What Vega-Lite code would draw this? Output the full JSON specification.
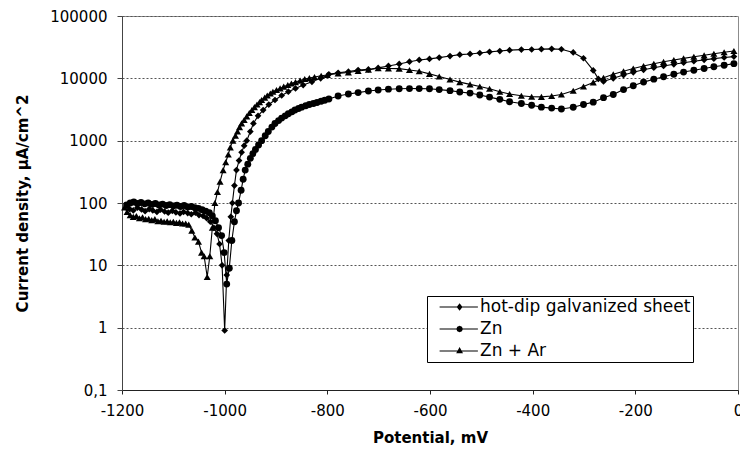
{
  "$schema": "https://vega.github.io/schema/vega-lite/v6.json",
  "width": 616,
  "height": 374,
  "autosize": {"type": "none"},
  "padding": {"left": 122, "top": 16, "right": 2, "bottom": 62},
  "background": "white",
  "config": {"view": {"stroke": "#8c8c8c", "strokeWidth": 1}, "font": "DejaVu Sans"},
  "datasets": {
    "d": [
      {"s":"hot-dip galvanized sheet","v":-1185,"i":80},{"s":"hot-dip galvanized sheet","v":-1178,"i":76},{"s":"hot-dip galvanized sheet","v":-1170,"i":84},{"s":"hot-dip galvanized sheet","v":-1162,"i":79},{"s":"hot-dip galvanized sheet","v":-1155,"i":74},{"s":"hot-dip galvanized sheet","v":-1147,"i":80},{"s":"hot-dip galvanized sheet","v":-1140,"i":76},{"s":"hot-dip galvanized sheet","v":-1132,"i":72},{"s":"hot-dip galvanized sheet","v":-1125,"i":78},{"s":"hot-dip galvanized sheet","v":-1117,"i":73},{"s":"hot-dip galvanized sheet","v":-1110,"i":70},{"s":"hot-dip galvanized sheet","v":-1102,"i":75},{"s":"hot-dip galvanized sheet","v":-1095,"i":71},{"s":"hot-dip galvanized sheet","v":-1087,"i":68},{"s":"hot-dip galvanized sheet","v":-1080,"i":72},{"s":"hot-dip galvanized sheet","v":-1072,"i":69},{"s":"hot-dip galvanized sheet","v":-1065,"i":66},{"s":"hot-dip galvanized sheet","v":-1057,"i":70},{"s":"hot-dip galvanized sheet","v":-1050,"i":64},{"s":"hot-dip galvanized sheet","v":-1042,"i":62},{"s":"hot-dip galvanized sheet","v":-1035,"i":57},{"s":"hot-dip galvanized sheet","v":-1028,"i":50},{"s":"hot-dip galvanized sheet","v":-1021,"i":40},{"s":"hot-dip galvanized sheet","v":-1015,"i":32},{"s":"hot-dip galvanized sheet","v":-1010,"i":22},{"s":"hot-dip galvanized sheet","v":-1005,"i":10},{"s":"hot-dip galvanized sheet","v":-1000,"i":0.9},{"s":"hot-dip galvanized sheet","v":-996,"i":7},{"s":"hot-dip galvanized sheet","v":-992,"i":25},{"s":"hot-dip galvanized sheet","v":-988,"i":60},{"s":"hot-dip galvanized sheet","v":-985,"i":100},{"s":"hot-dip galvanized sheet","v":-981,"i":190},{"s":"hot-dip galvanized sheet","v":-977,"i":337},{"s":"hot-dip galvanized sheet","v":-972,"i":480},{"s":"hot-dip galvanized sheet","v":-967,"i":650},{"s":"hot-dip galvanized sheet","v":-962,"i":830},{"s":"hot-dip galvanized sheet","v":-957,"i":1000},{"s":"hot-dip galvanized sheet","v":-950,"i":1400},{"s":"hot-dip galvanized sheet","v":-944,"i":1890},{"s":"hot-dip galvanized sheet","v":-935,"i":2500},{"s":"hot-dip galvanized sheet","v":-925,"i":3100},{"s":"hot-dip galvanized sheet","v":-914,"i":3800},{"s":"hot-dip galvanized sheet","v":-902,"i":4490},{"s":"hot-dip galvanized sheet","v":-889,"i":5300},{"s":"hot-dip galvanized sheet","v":-876,"i":6100},{"s":"hot-dip galvanized sheet","v":-862,"i":6900},{"s":"hot-dip galvanized sheet","v":-847,"i":7800},{"s":"hot-dip galvanized sheet","v":-830,"i":8800},{"s":"hot-dip galvanized sheet","v":-813,"i":10000},{"s":"hot-dip galvanized sheet","v":-797,"i":11600},{"s":"hot-dip galvanized sheet","v":-779,"i":12300},{"s":"hot-dip galvanized sheet","v":-759,"i":12800},{"s":"hot-dip galvanized sheet","v":-740,"i":13600},{"s":"hot-dip galvanized sheet","v":-720,"i":13900},{"s":"hot-dip galvanized sheet","v":-701,"i":14700},{"s":"hot-dip galvanized sheet","v":-681,"i":15800},{"s":"hot-dip galvanized sheet","v":-660,"i":17000},{"s":"hot-dip galvanized sheet","v":-640,"i":18500},{"s":"hot-dip galvanized sheet","v":-621,"i":19700},{"s":"hot-dip galvanized sheet","v":-601,"i":20500},{"s":"hot-dip galvanized sheet","v":-582,"i":21500},{"s":"hot-dip galvanized sheet","v":-561,"i":22800},{"s":"hot-dip galvanized sheet","v":-542,"i":24000},{"s":"hot-dip galvanized sheet","v":-522,"i":24600},{"s":"hot-dip galvanized sheet","v":-503,"i":25500},{"s":"hot-dip galvanized sheet","v":-484,"i":26600},{"s":"hot-dip galvanized sheet","v":-464,"i":27400},{"s":"hot-dip galvanized sheet","v":-445,"i":28300},{"s":"hot-dip galvanized sheet","v":-422,"i":28900},{"s":"hot-dip galvanized sheet","v":-402,"i":29000},{"s":"hot-dip galvanized sheet","v":-383,"i":29400},{"s":"hot-dip galvanized sheet","v":-363,"i":29700},{"s":"hot-dip galvanized sheet","v":-344,"i":29300},{"s":"hot-dip galvanized sheet","v":-321,"i":26000},{"s":"hot-dip galvanized sheet","v":-301,"i":21000},{"s":"hot-dip galvanized sheet","v":-282,"i":13400},{"s":"hot-dip galvanized sheet","v":-272,"i":9800},{"s":"hot-dip galvanized sheet","v":-262,"i":8900},{"s":"hot-dip galvanized sheet","v":-243,"i":10000},{"s":"hot-dip galvanized sheet","v":-223,"i":11300},{"s":"hot-dip galvanized sheet","v":-204,"i":12500},{"s":"hot-dip galvanized sheet","v":-184,"i":13700},{"s":"hot-dip galvanized sheet","v":-164,"i":14800},{"s":"hot-dip galvanized sheet","v":-145,"i":15800},{"s":"hot-dip galvanized sheet","v":-125,"i":16800},{"s":"hot-dip galvanized sheet","v":-106,"i":17800},{"s":"hot-dip galvanized sheet","v":-86,"i":18800},{"s":"hot-dip galvanized sheet","v":-66,"i":19800},{"s":"hot-dip galvanized sheet","v":-47,"i":20700},{"s":"hot-dip galvanized sheet","v":-27,"i":21600},{"s":"hot-dip galvanized sheet","v":-8,"i":22300},

      {"s":"Zn","v":-1191,"i":93},{"s":"Zn","v":-1184,"i":100},{"s":"Zn","v":-1177,"i":104},{"s":"Zn","v":-1170,"i":98},{"s":"Zn","v":-1163,"i":102},{"s":"Zn","v":-1156,"i":97},{"s":"Zn","v":-1149,"i":100},{"s":"Zn","v":-1142,"i":95},{"s":"Zn","v":-1135,"i":98},{"s":"Zn","v":-1128,"i":93},{"s":"Zn","v":-1121,"i":96},{"s":"Zn","v":-1114,"i":91},{"s":"Zn","v":-1107,"i":94},{"s":"Zn","v":-1100,"i":90},{"s":"Zn","v":-1093,"i":92},{"s":"Zn","v":-1086,"i":88},{"s":"Zn","v":-1079,"i":91},{"s":"Zn","v":-1072,"i":86},{"s":"Zn","v":-1065,"i":88},{"s":"Zn","v":-1058,"i":84},{"s":"Zn","v":-1051,"i":82},{"s":"Zn","v":-1044,"i":78},{"s":"Zn","v":-1037,"i":74},{"s":"Zn","v":-1030,"i":70},{"s":"Zn","v":-1024,"i":62},{"s":"Zn","v":-1018,"i":52},{"s":"Zn","v":-1012,"i":40},{"s":"Zn","v":-1006,"i":30},{"s":"Zn","v":-1001,"i":16},{"s":"Zn","v":-996,"i":5},{"s":"Zn","v":-991,"i":9},{"s":"Zn","v":-986,"i":25},{"s":"Zn","v":-981,"i":50},{"s":"Zn","v":-977,"i":75},{"s":"Zn","v":-973,"i":100},{"s":"Zn","v":-968,"i":160},{"s":"Zn","v":-964,"i":240},{"s":"Zn","v":-960,"i":337},{"s":"Zn","v":-955,"i":420},{"s":"Zn","v":-950,"i":520},{"s":"Zn","v":-945,"i":620},{"s":"Zn","v":-940,"i":720},{"s":"Zn","v":-934,"i":850},{"s":"Zn","v":-928,"i":1000},{"s":"Zn","v":-921,"i":1200},{"s":"Zn","v":-915,"i":1400},{"s":"Zn","v":-908,"i":1650},{"s":"Zn","v":-902,"i":1890},{"s":"Zn","v":-895,"i":2100},{"s":"Zn","v":-889,"i":2300},{"s":"Zn","v":-882,"i":2500},{"s":"Zn","v":-876,"i":2700},{"s":"Zn","v":-869,"i":2900},{"s":"Zn","v":-863,"i":3100},{"s":"Zn","v":-856,"i":3280},{"s":"Zn","v":-850,"i":3450},{"s":"Zn","v":-842,"i":3630},{"s":"Zn","v":-835,"i":3800},{"s":"Zn","v":-827,"i":3950},{"s":"Zn","v":-820,"i":4100},{"s":"Zn","v":-812,"i":4300},{"s":"Zn","v":-805,"i":4450},{"s":"Zn","v":-797,"i":4650},{"s":"Zn","v":-779,"i":5200},{"s":"Zn","v":-759,"i":5600},{"s":"Zn","v":-740,"i":5900},{"s":"Zn","v":-720,"i":6250},{"s":"Zn","v":-701,"i":6500},{"s":"Zn","v":-681,"i":6700},{"s":"Zn","v":-660,"i":6800},{"s":"Zn","v":-640,"i":6850},{"s":"Zn","v":-621,"i":6850},{"s":"Zn","v":-601,"i":6800},{"s":"Zn","v":-582,"i":6600},{"s":"Zn","v":-561,"i":6350},{"s":"Zn","v":-542,"i":6050},{"s":"Zn","v":-522,"i":5800},{"s":"Zn","v":-503,"i":5400},{"s":"Zn","v":-484,"i":5000},{"s":"Zn","v":-464,"i":4600},{"s":"Zn","v":-445,"i":4200},{"s":"Zn","v":-422,"i":3950},{"s":"Zn","v":-402,"i":3700},{"s":"Zn","v":-383,"i":3450},{"s":"Zn","v":-363,"i":3330},{"s":"Zn","v":-344,"i":3220},{"s":"Zn","v":-321,"i":3430},{"s":"Zn","v":-301,"i":3800},{"s":"Zn","v":-282,"i":4150},{"s":"Zn","v":-262,"i":4900},{"s":"Zn","v":-243,"i":5500},{"s":"Zn","v":-223,"i":6600},{"s":"Zn","v":-204,"i":7600},{"s":"Zn","v":-184,"i":8700},{"s":"Zn","v":-164,"i":9700},{"s":"Zn","v":-145,"i":10600},{"s":"Zn","v":-125,"i":11600},{"s":"Zn","v":-106,"i":12600},{"s":"Zn","v":-86,"i":13500},{"s":"Zn","v":-66,"i":14400},{"s":"Zn","v":-47,"i":15300},{"s":"Zn","v":-27,"i":16200},{"s":"Zn","v":-8,"i":17200},

      {"s":"Zn + Ar","v":-1195,"i":85},{"s":"Zn + Ar","v":-1190,"i":72},{"s":"Zn + Ar","v":-1184,"i":64},{"s":"Zn + Ar","v":-1178,"i":60},{"s":"Zn + Ar","v":-1172,"i":62},{"s":"Zn + Ar","v":-1166,"i":57},{"s":"Zn + Ar","v":-1160,"i":59},{"s":"Zn + Ar","v":-1154,"i":55},{"s":"Zn + Ar","v":-1148,"i":56},{"s":"Zn + Ar","v":-1142,"i":53},{"s":"Zn + Ar","v":-1136,"i":55},{"s":"Zn + Ar","v":-1130,"i":51},{"s":"Zn + Ar","v":-1124,"i":52},{"s":"Zn + Ar","v":-1118,"i":50},{"s":"Zn + Ar","v":-1112,"i":51},{"s":"Zn + Ar","v":-1106,"i":49},{"s":"Zn + Ar","v":-1100,"i":50},{"s":"Zn + Ar","v":-1094,"i":48},{"s":"Zn + Ar","v":-1088,"i":49},{"s":"Zn + Ar","v":-1082,"i":47},{"s":"Zn + Ar","v":-1076,"i":47},{"s":"Zn + Ar","v":-1070,"i":45},{"s":"Zn + Ar","v":-1064,"i":36},{"s":"Zn + Ar","v":-1058,"i":28},{"s":"Zn + Ar","v":-1051,"i":24},{"s":"Zn + Ar","v":-1045,"i":16},{"s":"Zn + Ar","v":-1040,"i":14},{"s":"Zn + Ar","v":-1034,"i":6.5},{"s":"Zn + Ar","v":-1029,"i":14},{"s":"Zn + Ar","v":-1024,"i":40},{"s":"Zn + Ar","v":-1019,"i":100},{"s":"Zn + Ar","v":-1014,"i":150},{"s":"Zn + Ar","v":-1009,"i":220},{"s":"Zn + Ar","v":-1003,"i":337},{"s":"Zn + Ar","v":-998,"i":450},{"s":"Zn + Ar","v":-993,"i":600},{"s":"Zn + Ar","v":-989,"i":780},{"s":"Zn + Ar","v":-984,"i":1000},{"s":"Zn + Ar","v":-979,"i":1200},{"s":"Zn + Ar","v":-975,"i":1400},{"s":"Zn + Ar","v":-971,"i":1650},{"s":"Zn + Ar","v":-967,"i":1890},{"s":"Zn + Ar","v":-962,"i":2150},{"s":"Zn + Ar","v":-957,"i":2450},{"s":"Zn + Ar","v":-952,"i":2780},{"s":"Zn + Ar","v":-947,"i":3100},{"s":"Zn + Ar","v":-942,"i":3450},{"s":"Zn + Ar","v":-937,"i":3800},{"s":"Zn + Ar","v":-932,"i":4150},{"s":"Zn + Ar","v":-928,"i":4490},{"s":"Zn + Ar","v":-922,"i":4900},{"s":"Zn + Ar","v":-917,"i":5300},{"s":"Zn + Ar","v":-911,"i":5700},{"s":"Zn + Ar","v":-906,"i":6100},{"s":"Zn + Ar","v":-899,"i":6500},{"s":"Zn + Ar","v":-892,"i":6900},{"s":"Zn + Ar","v":-885,"i":7350},{"s":"Zn + Ar","v":-877,"i":7800},{"s":"Zn + Ar","v":-870,"i":8250},{"s":"Zn + Ar","v":-862,"i":8700},{"s":"Zn + Ar","v":-853,"i":9200},{"s":"Zn + Ar","v":-844,"i":9750},{"s":"Zn + Ar","v":-835,"i":10100},{"s":"Zn + Ar","v":-825,"i":10500},{"s":"Zn + Ar","v":-812,"i":11000},{"s":"Zn + Ar","v":-800,"i":11300},{"s":"Zn + Ar","v":-779,"i":12000},{"s":"Zn + Ar","v":-759,"i":12400},{"s":"Zn + Ar","v":-740,"i":13100},{"s":"Zn + Ar","v":-720,"i":13700},{"s":"Zn + Ar","v":-701,"i":14500},{"s":"Zn + Ar","v":-681,"i":14400},{"s":"Zn + Ar","v":-660,"i":14300},{"s":"Zn + Ar","v":-640,"i":13600},{"s":"Zn + Ar","v":-621,"i":13000},{"s":"Zn + Ar","v":-601,"i":11800},{"s":"Zn + Ar","v":-582,"i":10700},{"s":"Zn + Ar","v":-561,"i":9600},{"s":"Zn + Ar","v":-542,"i":8700},{"s":"Zn + Ar","v":-522,"i":8000},{"s":"Zn + Ar","v":-503,"i":7400},{"s":"Zn + Ar","v":-484,"i":6800},{"s":"Zn + Ar","v":-464,"i":6100},{"s":"Zn + Ar","v":-445,"i":5600},{"s":"Zn + Ar","v":-422,"i":5250},{"s":"Zn + Ar","v":-402,"i":5070},{"s":"Zn + Ar","v":-383,"i":5050},{"s":"Zn + Ar","v":-363,"i":5200},{"s":"Zn + Ar","v":-344,"i":5500},{"s":"Zn + Ar","v":-321,"i":6330},{"s":"Zn + Ar","v":-301,"i":7400},{"s":"Zn + Ar","v":-282,"i":8600},{"s":"Zn + Ar","v":-262,"i":10200},{"s":"Zn + Ar","v":-243,"i":11600},{"s":"Zn + Ar","v":-223,"i":13000},{"s":"Zn + Ar","v":-204,"i":14400},{"s":"Zn + Ar","v":-184,"i":15800},{"s":"Zn + Ar","v":-164,"i":17100},{"s":"Zn + Ar","v":-145,"i":18400},{"s":"Zn + Ar","v":-125,"i":19700},{"s":"Zn + Ar","v":-106,"i":20900},{"s":"Zn + Ar","v":-86,"i":22200},{"s":"Zn + Ar","v":-66,"i":23400},{"s":"Zn + Ar","v":-47,"i":24800},{"s":"Zn + Ar","v":-27,"i":26200},{"s":"Zn + Ar","v":-8,"i":27500}
    ]
  },
  "data": {"name": "d"},
  "encoding": {
    "x": {
      "field": "v", "type": "quantitative",
      "scale": {"domain": [-1200, 0], "nice": false, "zero": false},
      "axis": {
        "values": [-1200, -1000, -800, -600, -400, -200, 0],
        "labelExpr": "datum.value == 0 ? '0' : '-' + abs(datum.value)",
        "title": "Potential, mV",
        "titleFont": "DejaVu Sans", "titleFontSize": 15, "titleFontWeight": "bold", "titleColor": "black",
        "titleX": 308, "titleY": 47, "titleBaseline": "middle", "titleAlign": "center",
        "labelFont": "DejaVu Sans", "labelFontSize": 15, "labelColor": "black", "labelPadding": 9,
        "labelFlush": false, "labelOverlap": false,
        "tickSize": 4, "tickColor": "#222", "domainColor": "#222", "domainWidth": 1,
        "grid": false
      }
    },
    "y": {
      "field": "i", "type": "quantitative",
      "scale": {"type": "log", "domain": [0.1, 100000], "nice": false},
      "axis": {
        "values": [0.1, 1, 10, 100, 1000, 10000, 100000],
        "labelExpr": "datum.value < 1 ? '0,1' : format(datum.value, 'd')",
        "title": "Current density, µA/cm^2",
        "titleFont": "DejaVu Sans", "titleFontSize": 15, "titleFontWeight": "bold", "titleColor": "black",
        "titleAngle": -90, "titleX": -100, "titleY": 187, "titleBaseline": "middle", "titleAlign": "center",
        "labelFont": "DejaVu Sans", "labelFontSize": 15, "labelColor": "black", "labelPadding": 10,
        "labelOverlap": false, "labelFlush": false,
        "tickSize": 5, "tickColor": "#444", "domainColor": "#444", "domainWidth": 1,
        "grid": true, "gridColor": "#555", "gridDash": [2, 2], "gridWidth": 1
      }
    }
  },
  "layer": [
    {
      "mark": {"type": "line", "color": "black", "strokeWidth": 1.1},
      "encoding": {"detail": {"field": "s", "type": "nominal"}}
    },
    {
      "mark": {"type": "point", "filled": true, "color": "black", "opacity": 1},
      "encoding": {
        "shape": {
          "field": "s", "type": "nominal",
          "scale": {"domain": ["hot-dip galvanized sheet", "Zn", "Zn + Ar"], "range": ["diamond", "circle", "triangle-up"]},
          "legend": null
        },
        "size": {
          "field": "s", "type": "nominal",
          "scale": {"domain": ["hot-dip galvanized sheet", "Zn", "Zn + Ar"], "range": [45, 50, 50]},
          "legend": null
        }
      }
    },
    {
      "mark": {"type": "point", "filled": true, "color": "black", "opacity": 0},
      "encoding": {
        "shape": {
          "field": "s", "type": "nominal",
          "scale": {
            "domain": ["hot-dip galvanized sheet", "Zn", "Zn + Ar"],
            "range": [
              "M-0.57,-0.022L1,-0.022L1,0.022L-0.57,0.022ZM0.25,-0.15L0.37,0L0.25,0.15L0.13,0Z",
              "M-0.57,-0.022L1,-0.022L1,0.022L-0.57,0.022ZM0.385,0L0.345,0.095L0.25,0.135L0.155,0.095L0.115,0L0.155,-0.095L0.25,-0.135L0.345,-0.095Z",
              "M-0.57,-0.022L1,-0.022L1,0.022L-0.57,0.022ZM0.25,-0.16L0.39,0.09L0.11,0.09Z"
            ]
          },
          "legend": {
            "orient": "none", "legendX": 305, "legendY": 280,
            "title": null,
            "strokeColor": "black", "fillColor": "white", "padding": 2, "cornerRadius": 0,
            "labelFont": "DejaVu Sans", "labelFontSize": 17, "labelColor": "black", "labelOffset": 2, "labelLimit": 400,
            "labelExpr": "datum.label + '    '",
            "symbolSize": 2381, "symbolStrokeWidth": 0, "symbolFillColor": "black", "symbolStrokeColor": "black",
            "symbolOpacity": 1, "clipHeight": 18, "rowPadding": 4,
            "encode": {"symbols": {"update": {"fill": {"value": "black"}, "opacity": {"value": 1}, "fillOpacity": {"value": 1}}}}
          }
        }
      }
    }
  ],
  "resolve": {"scale": {"shape": "independent", "size": "independent"}}
}
